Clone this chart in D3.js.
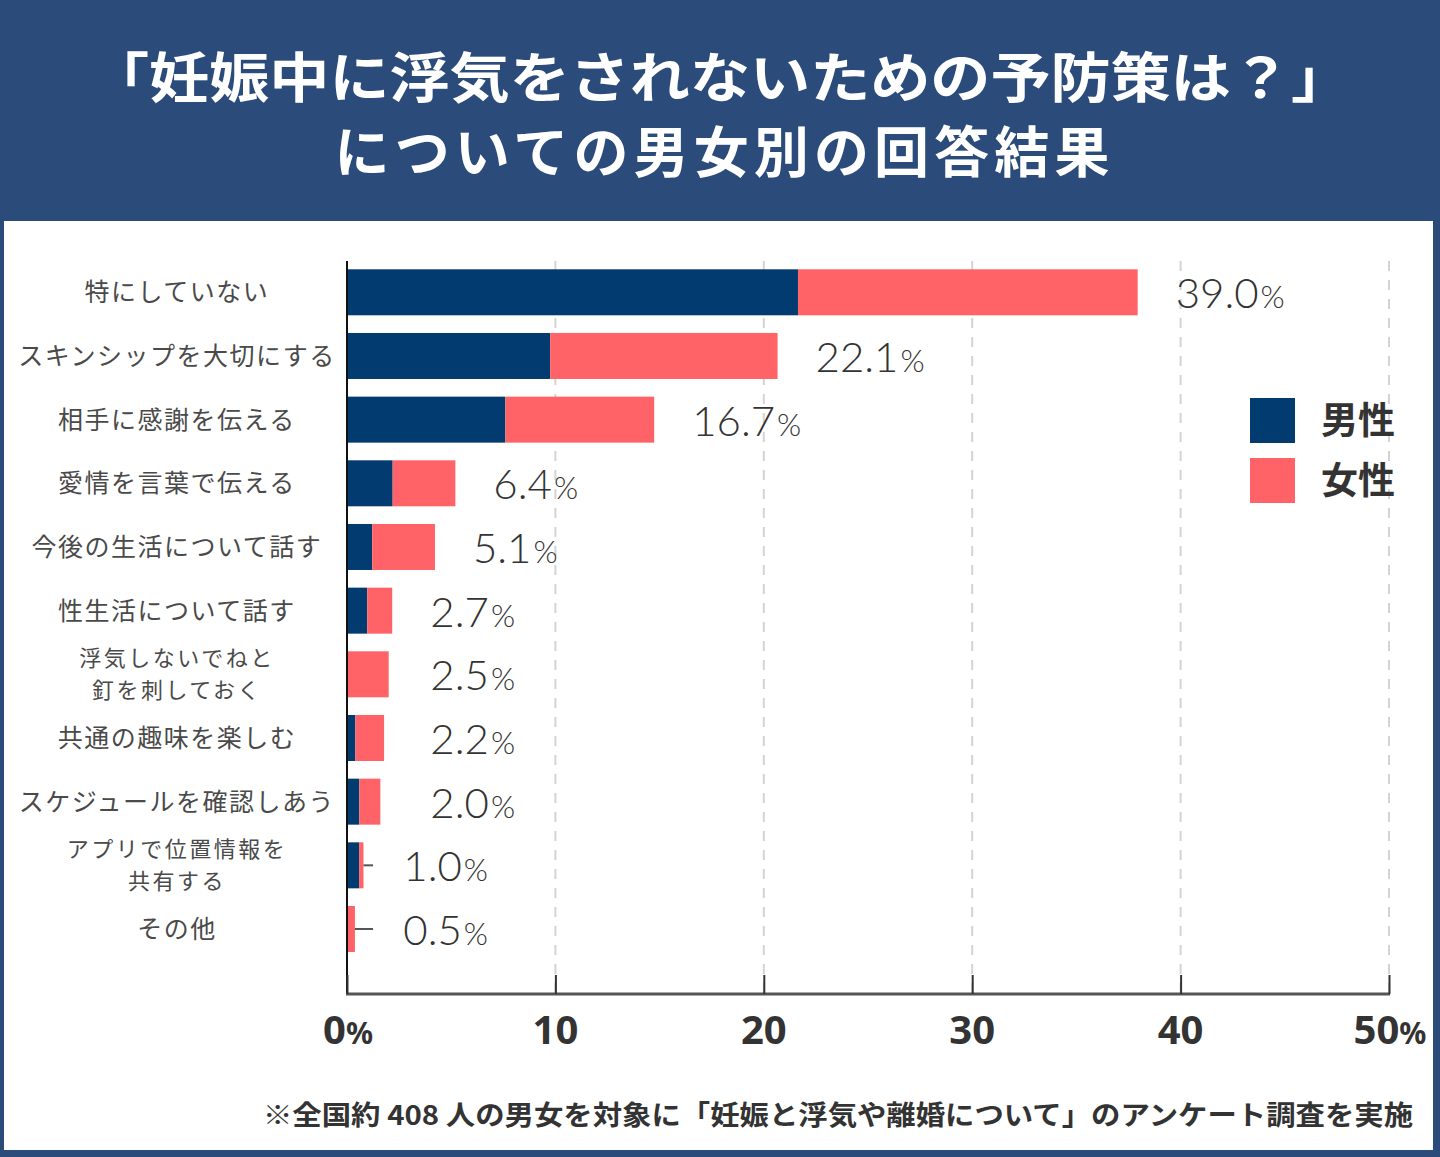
<!DOCTYPE html>
<html>
<head>
<meta charset="utf-8">
<script src="https://cdn.jsdelivr.net/npm/d3@7"></script>
<style>
html,body{margin:0;padding:0;background:#2b4b7b;}
svg{display:block;}
</style>
</head>
<body>
<svg id="chart" width="1440" height="1157"></svg>
<script>
// ---- data ----
const categories = [
  ["特にしていない"],
  ["スキンシップを大切にする"],
  ["相手に感謝を伝える"],
  ["愛情を言葉で伝える"],
  ["今後の生活について話す"],
  ["性生活について話す"],
  ["浮気しないでねと","釘を刺しておく"],
  ["共通の趣味を楽しむ"],
  ["スケジュールを確認しあう"],
  ["アプリで位置情報を","共有する"],
  ["その他"]
];
const maleValues   = [21.64, 9.75, 7.60, 2.19, 1.21, 0.97, 0.00, 0.40, 0.59, 0.58, 0.00];
const femaleValues = [16.30, 10.91, 7.14, 3.01, 3.01, 1.20, 2.00, 1.38, 1.01, 0.21, 0.38];
const totalLabels  = ["39.0","22.1","16.7","6.4","5.1","2.7","2.5","2.2","2.0","1.0","0.5"];
const leaderRows   = [false,false,false,false,false,false,false,false,false,true,true];
const tickValues   = [0,10,20,30,40,50];
const tickLabels   = [["0","%"],["10",""],["20",""],["30",""],["40",""],["50","%"]];
const seriesNames  = ["男性","女性"];
const titleLines   = ["「妊娠中に浮気をされないための予防策は？」","についての男女別の回答結果"];
const footnote     = "※全国約 408 人の男女を対象に「妊娠と浮気や離婚について」のアンケート調査を実施";

// ---- styles ----
const NAVY = "#023b70", CORAL = "#ff6367", HEADER = "#2b4b7b";
const JP = "'Noto Sans CJK JP','Noto Sans',sans-serif";

const svg = d3.select("#chart");

// background / frame
svg.append("rect").attr("x",0).attr("y",0).attr("width",1440).attr("height",1157).attr("fill",HEADER);
svg.append("rect").attr("x",4).attr("y",221).attr("width",1429).attr("height",929).attr("fill","#ffffff");

// title
svg.append("text").attr("x",720).attr("y",98).attr("text-anchor","middle")
  .attr("fill","#fff").attr("font-family",JP).attr("font-weight","bold").attr("font-size",54)
  .attr("textLength",1262).attr("lengthAdjust","spacingAndGlyphs").text(titleLines[0]);
svg.append("text").attr("x",722).attr("y",172).attr("text-anchor","middle")
  .attr("fill","#fff").attr("font-family",JP).attr("font-weight","bold").attr("font-size",55)
  .attr("textLength",775).attr("lengthAdjust","spacing").text(titleLines[1]);

// scales
const x = d3.scaleLinear().domain([0,50]).range([347,1389]);
const y = d3.scaleBand().domain(d3.range(categories.length)).range([269.3,952]).paddingInner(0.2775).paddingOuter(0);
const axisY = 994, topY = 261;

// gridlines
const g = svg.append("g");
g.selectAll("line.grid").data(tickValues.filter(v=>v>0)).join("line")
  .attr("x1",d=>x(d)).attr("x2",d=>x(d)).attr("y1",topY).attr("y2",axisY)
  .attr("stroke","#d4d4d4").attr("stroke-width",2).attr("stroke-dasharray","10,9");

// bars
const rows = categories.map((c,i)=>({i, m:maleValues[i], f:femaleValues[i]}));
g.selectAll("rect.male").data(rows).join("rect")
  .attr("x",x(0)).attr("y",d=>y(d.i)).attr("width",d=>x(d.m)-x(0)).attr("height",y.bandwidth())
  .attr("fill",NAVY);
g.selectAll("rect.female").data(rows).join("rect")
  .attr("x",d=>x(d.m)).attr("y",d=>y(d.i)).attr("width",d=>x(d.m+d.f)-x(d.m)).attr("height",y.bandwidth())
  .attr("fill",CORAL);

// leader lines
g.selectAll("line.leader").data(rows.filter(d=>leaderRows[d.i])).join("line")
  .attr("x1",d=>x(d.m+d.f)).attr("x2",x(1.25))
  .attr("y1",d=>y(d.i)+y.bandwidth()/2).attr("y2",d=>y(d.i)+y.bandwidth()/2)
  .attr("stroke","#555").attr("stroke-width",2);

// value labels
const vl = g.selectAll("text.val").data(rows).join("text")
  .attr("x",d=> leaderRows[d.i] ? x(2.7) : Math.max(x(d.m+d.f)+38, x(4.0)))
  .attr("y",d=>y(d.i)+y.bandwidth()/2+16)
  .attr("fill","#333").attr("font-family","Lato,'Noto Sans',sans-serif").attr("font-weight",300)
  .attr("font-size",42);
vl.append("tspan").text(d=>totalLabels[d.i]);
vl.append("tspan").attr("font-size",31).attr("dx",2).text("%");

// category labels (one text element per line)
const catLines = [];
rows.forEach(d=>{
  const lines = categories[d.i];
  const cy = y(d.i)+y.bandwidth()/2;
  if(lines.length===1) catLines.push({t:lines[0], y:cy+9, fs:25, ls:1.5});
  else {
    catLines.push({t:lines[0], y:cy-8, fs:22, ls:2.5});
    catLines.push({t:lines[1], y:cy+24, fs:22, ls:2.5});
  }
});
g.selectAll("text.cat").data(catLines).join("text")
  .attr("x",177).attr("y",d=>d.y).attr("text-anchor","middle")
  .attr("fill","#4a4a4a").attr("font-family",JP).attr("font-size",d=>d.fs).attr("letter-spacing",d=>d.ls)
  .text(d=>d.t);

// axes lines
g.append("line").attr("x1",x(0)).attr("x2",x(0)).attr("y1",topY).attr("y2",axisY+1)
  .attr("stroke","#111").attr("stroke-width",2);
g.append("line").attr("x1",x(0)-1).attr("x2",x(50)+1).attr("y1",axisY).attr("y2",axisY)
  .attr("stroke","#555").attr("stroke-width",3);

// x axis ticks via d3 axis
const xAxis = d3.axisTop(x).tickValues(tickValues).tickSize(19).tickFormat("");
const ax = g.append("g").attr("transform",`translate(0,${axisY})`).call(xAxis);
ax.select(".domain").remove();
ax.selectAll(".tick line").attr("stroke","#333").attr("stroke-width",2);

// tick labels
const tl = g.selectAll("text.tick").data(tickValues).join("text")
  .attr("x",(d,i)=> x(d) + (tickLabels[i][1] ? 1 : 0)).attr("y",1044).attr("text-anchor","middle")
  .attr("fill","#333").attr("font-family","'Noto Sans',sans-serif").attr("font-weight","bold").attr("font-size",40);
tl.append("tspan").text((d,i)=>tickLabels[i][0]);
tl.append("tspan").attr("font-size",30).text((d,i)=>tickLabels[i][1]);

// legend
const leg = g.selectAll("g.leg").data(seriesNames).join("g")
  .attr("transform",(d,i)=>`translate(1250,${398+i*60})`);
leg.append("rect").attr("width",45).attr("height",45).attr("fill",(d,i)=>i===0?NAVY:CORAL);
leg.append("text").attr("x",71).attr("y",36).attr("fill","#333")
  .attr("font-family",JP).attr("font-weight","bold").attr("font-size",37).text(d=>d);

// footnote
svg.append("text").attr("x",1413).attr("y",1125).attr("text-anchor","end")
  .attr("fill","#333").attr("font-family",JP).attr("font-weight","bold").attr("font-size",27)
  .attr("textLength",1150).attr("lengthAdjust","spacingAndGlyphs").text(footnote);
</script>
</body>
</html>
